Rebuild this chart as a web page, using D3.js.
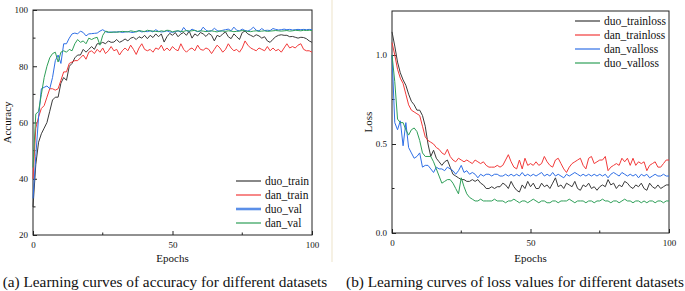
<!DOCTYPE html>
<html><head><meta charset="utf-8">
<script src="https://cdn.jsdelivr.net/npm/d3@7"></script>
<style>body{margin:0;background:#fff}svg{display:block}</style>
</head><body>
<script>
const epochs = d3.range(0, 101);
const accTicks = [20, 40, 60, 80, 100];
const lossTicks = [0.0, 0.5, 1.0];
const epochTicks = [0, 50, 100];

const duoTrain = [30,45,53,56,58,60,64,68,69,69,74,76,75,80,81,83,84,84,86,85,86,87,86,88,88,88.5,88,89,88.5,88.6,89.5,88.5,89,89.7,89,90,90.3,89.5,90.5,90,91,89.8,91,90.2,91.5,90.5,91.5,88.6,90.5,91.7,91,92,90.5,91.5,92,91,92.5,90,91.5,90.8,92,91.5,90.6,91.7,91,89,91,90.5,91.5,92.2,90.5,89.8,91.5,90.5,89.5,92,92.5,91.5,91,90.5,91.2,90.8,90,90.5,89,88.5,89.6,90.5,91,91.2,91,91,90.5,90.6,90.3,90,90.3,90.2,89.8,89,88.5];
const danTrain = [40,58,62,65,66,69,72,72,71.5,72,75,78,78,81,81.5,82,82,83,84,82.5,85,85.5,84.5,86,85,86.5,84.5,85.5,87,85.5,86,84,85.5,86.5,85.5,87.5,86,84.2,86.5,88,86,85.5,86,85,86.5,86,87.5,85.5,86.5,85.5,87,86,85.5,88,86,85,86,86.5,85.5,87.5,86,85.7,86.5,86,84.5,86,87.5,86.5,85,86,88,86.5,85.5,86,85,86.5,89,87.5,86.5,86,85.5,86.5,86,85.5,87,85.5,86.5,85.5,86,85,86.5,88,86.5,87,86.5,87.5,88,86,85.5,85.5,85];
const duoVal = [33,48,62,72,72.5,73,72,76,82,84,81,88,88,90,91.5,91.8,91.5,92.5,92,90.8,91.5,91.6,91.7,91.8,92.5,93,92.3,92,92.2,92.1,92.2,92.3,92,92.2,92.3,92.1,92,92.4,92.6,92.2,92.4,92.3,92.6,92.2,93,92.4,92.2,92.3,92.6,92.2,92.1,92.3,92.6,92.1,93.8,92.6,92.4,93.2,92.7,92.3,92.5,93.9,92.8,92.4,92.6,93.5,92.7,92.4,92.8,93,93.2,92.6,93.9,92.8,92.6,93.2,92.7,92.5,93,93.9,92.8,92.6,93.4,92.7,92.8,92.7,93.4,93.1,92.9,93,93.2,93,93.1,92.9,93,93.1,93,93.1,93,93.1,93];
const danVal = [44,63,64,70,76,80,83,84.5,85,81.5,85,85.5,85,86,85.5,88,89.5,88.5,89,88,90,89.5,90,90.3,87.5,91,92.5,92.2,92,92.2,92.1,92.2,92.4,92.3,92.2,92.6,92.4,92.2,92.7,92.5,92.3,92.8,92.6,92.5,92.4,92.3,92.6,92.4,92.8,92.7,92.2,92.5,92.6,92.4,92.4,92.7,92.5,92.6,92.8,92.4,92.6,92.5,92.3,92.5,92.6,92.4,92.2,92.6,92.5,92.4,92.6,92.5,92.3,92.4,92.5,92.7,92.6,92.4,92.3,92.5,92.6,92.4,92.5,92.6,92.4,92.5,92.6,92.7,92.6,92.5,92.6,92.7,92.5,92.6,92.8,92.7,92.6,92.8,92.7,92.8,92.7];

const duoTrainLoss = [1.13,1.05,0.96,0.90,0.86,0.83,0.78,0.74,0.72,0.69,0.69,0.66,0.60,0.50,0.43,0.465,0.42,0.40,0.38,0.40,0.41,0.37,0.33,0.32,0.31,0.30,0.30,0.29,0.29,0.30,0.29,0.30,0.28,0.27,0.25,0.25,0.26,0.25,0.26,0.26,0.28,0.27,0.25,0.29,0.26,0.24,0.23,0.27,0.25,0.29,0.26,0.28,0.25,0.25,0.28,0.26,0.27,0.25,0.28,0.31,0.26,0.27,0.25,0.28,0.27,0.26,0.29,0.25,0.24,0.27,0.26,0.28,0.25,0.26,0.24,0.26,0.27,0.26,0.30,0.27,0.28,0.25,0.27,0.26,0.29,0.28,0.26,0.25,0.27,0.26,0.28,0.25,0.24,0.28,0.26,0.25,0.27,0.25,0.26,0.27,0.27];
const danTrainLoss = [1.07,1.00,0.92,0.87,0.84,0.78,0.72,0.69,0.68,0.67,0.66,0.60,0.54,0.52,0.51,0.50,0.48,0.47,0.45,0.44,0.47,0.43,0.41,0.40,0.42,0.41,0.40,0.41,0.40,0.39,0.41,0.40,0.39,0.40,0.38,0.37,0.37,0.37,0.38,0.37,0.38,0.41,0.44,0.40,0.37,0.36,0.41,0.36,0.42,0.38,0.39,0.38,0.40,0.38,0.39,0.43,0.40,0.38,0.37,0.41,0.42,0.39,0.36,0.34,0.37,0.39,0.40,0.41,0.42,0.38,0.36,0.42,0.43,0.39,0.40,0.41,0.41,0.43,0.35,0.37,0.38,0.39,0.38,0.42,0.40,0.42,0.38,0.42,0.38,0.40,0.39,0.40,0.35,0.38,0.39,0.40,0.37,0.37,0.39,0.41,0.41];
const danValLoss = [1.00,0.62,0.58,0.63,0.49,0.62,0.48,0.45,0.42,0.43,0.45,0.37,0.38,0.38,0.36,0.34,0.37,0.36,0.36,0.35,0.37,0.36,0.35,0.33,0.35,0.38,0.34,0.35,0.33,0.34,0.33,0.31,0.33,0.32,0.33,0.33,0.32,0.33,0.33,0.32,0.32,0.33,0.32,0.33,0.32,0.33,0.32,0.34,0.32,0.33,0.32,0.33,0.32,0.33,0.34,0.32,0.33,0.32,0.34,0.32,0.33,0.32,0.31,0.33,0.32,0.33,0.34,0.33,0.32,0.33,0.32,0.33,0.32,0.33,0.32,0.33,0.32,0.33,0.31,0.33,0.34,0.33,0.32,0.34,0.33,0.32,0.33,0.32,0.33,0.31,0.33,0.32,0.33,0.31,0.32,0.33,0.32,0.32,0.33,0.32,0.32];
const duoValLoss = [1.00,0.85,0.64,0.62,0.62,0.58,0.55,0.58,0.59,0.57,0.52,0.45,0.43,0.43,0.43,0.40,0.36,0.32,0.28,0.29,0.30,0.30,0.28,0.25,0.22,0.31,0.26,0.22,0.20,0.19,0.18,0.18,0.19,0.18,0.18,0.18,0.18,0.19,0.18,0.18,0.18,0.17,0.18,0.18,0.19,0.18,0.17,0.18,0.18,0.17,0.18,0.19,0.18,0.17,0.18,0.18,0.17,0.17,0.18,0.18,0.17,0.18,0.18,0.18,0.19,0.18,0.17,0.18,0.18,0.18,0.17,0.18,0.18,0.17,0.18,0.18,0.19,0.18,0.18,0.17,0.18,0.18,0.17,0.18,0.19,0.18,0.18,0.17,0.18,0.18,0.17,0.18,0.17,0.18,0.18,0.17,0.18,0.18,0.17,0.18,0.18];

const C = {black:"#3a3a3a", red:"#f23a3a", blue:"#2f6fe6", green:"#2e9f58"};
const FONT = "'Liberation Serif', 'DejaVu Serif', serif";

const svg = d3.select("body").append("svg").attr("width",685).attr("height",291)
  .attr("font-family", FONT);

svg.append("line").attr("x1",332).attr("x2",332).attr("y1",0).attr("y2",262).attr("stroke","#f6f1e4").attr("stroke-width",2);

function txt(sel){ return sel.attr("font-family", FONT).attr("fill","#111"); }

function panel(o){
  const g = svg.append("g");
  const x = d3.scaleLinear().domain([0,100]).range([o.l,o.r]);
  const y = d3.scaleLinear().domain(o.yDomain).range([o.b,o.t]);
  const line = d3.line().x((d,i)=>x(epochs[i])).y(d=>y(d));
  g.append("rect").attr("x",o.l).attr("y",o.t).attr("width",o.r-o.l).attr("height",o.b-o.t)
    .attr("fill","none").attr("stroke","#222").attr("stroke-width",1);
  const xa = d3.axisBottom(x).tickValues(epochTicks).tickSize(-4).tickPadding(7).tickFormat(d3.format("d"));
  const gx = g.append("g").attr("transform",`translate(0,${o.b})`).call(xa);
  const ya = d3.axisLeft(y).tickValues(o.yTicks).tickSize(-4).tickPadding(5).tickFormat(o.fmt);
  const gy = g.append("g").attr("transform",`translate(${o.l},0)`).call(ya);
  [gx,gy].forEach(a=>{a.attr("font-family",FONT);a.select(".domain").remove();a.selectAll("line").attr("stroke","#222");txt(a.selectAll("text").attr("font-size",9));});
  g.append("g").selectAll("line").data([25,75]).join("line")
    .attr("x1",d=>x(d)).attr("x2",d=>x(d)).attr("y1",o.b).attr("y2",o.b-2.5).attr("stroke","#222");
  g.append("g").selectAll("line").data(o.yMinor).join("line")
    .attr("x1",o.l).attr("x2",o.l+2.5).attr("y1",d=>y(d)).attr("y2",d=>y(d)).attr("stroke","#222");
  o.series.forEach(s=>{
    g.append("path").datum(s.values).attr("d",line).attr("fill","none")
      .attr("stroke",s.color).attr("stroke-width",1).attr("stroke-linejoin","round");
  });
  o.series.forEach((s,i)=>{
    const yy = o.legY + i*14;
    g.append("line").attr("x1",o.legX).attr("x2",o.legX+25).attr("y1",yy).attr("y2",yy)
      .attr("stroke",s.legC||s.color).attr("stroke-width",s.legW||1.2);
    txt(g.append("text")).attr("x",o.legX+29).attr("y",yy+3.5).attr("font-size",11.5).text(s.name);
  });
  txt(g.append("text")).attr("x",(o.l+o.r)/2).attr("y",262).attr("text-anchor","middle").attr("font-size",11).text("Epochs");
  txt(g.append("text")).attr("transform",`translate(${o.yLabX},${(o.t+o.b)/2}) rotate(-90)`).attr("text-anchor","middle").attr("font-size",11).text(o.yLabel);
  txt(g.append("text")).attr("x",o.capX).attr("y",287).attr("text-anchor","middle").attr("font-size",15.3).text(o.caption);
}

panel({l:33,r:312,t:10,b:235,yDomain:[20,100],yTicks:accTicks,yMinor:[30,50,70,90],fmt:d3.format("d"),
  yLabel:"Accuracy",yLabX:11,legX:236,legY:181,capX:165,
  caption:"(a) Learning curves of accuracy for different datasets",
  series:[{name:"duo_train",values:duoTrain,color:C.black},
          {name:"dan_train",values:danTrain,color:C.red},
          {name:"duo_val",values:duoVal,color:C.blue,legW:2.6,legC:"#5b8fe8"},
          {name:"dan_val",values:danVal,color:C.green}]});

panel({l:392,r:669,t:11,b:233,yDomain:[0,(233-11)/178],yTicks:lossTicks,yMinor:[0.25,0.75],fmt:d3.format(".1f"),
  yLabel:"Loss",yLabX:372,legX:575,legY:21,capX:515,
  caption:"(b) Learning curves of loss values for different datasets",
  series:[{name:"duo_trainloss",values:duoTrainLoss,color:C.black},
          {name:"dan_trainloss",values:danTrainLoss,color:C.red},
          {name:"dan_valloss",values:danValLoss,color:C.blue},
          {name:"duo_valloss",values:duoValLoss,color:C.green}]});
</script>
</body></html>
